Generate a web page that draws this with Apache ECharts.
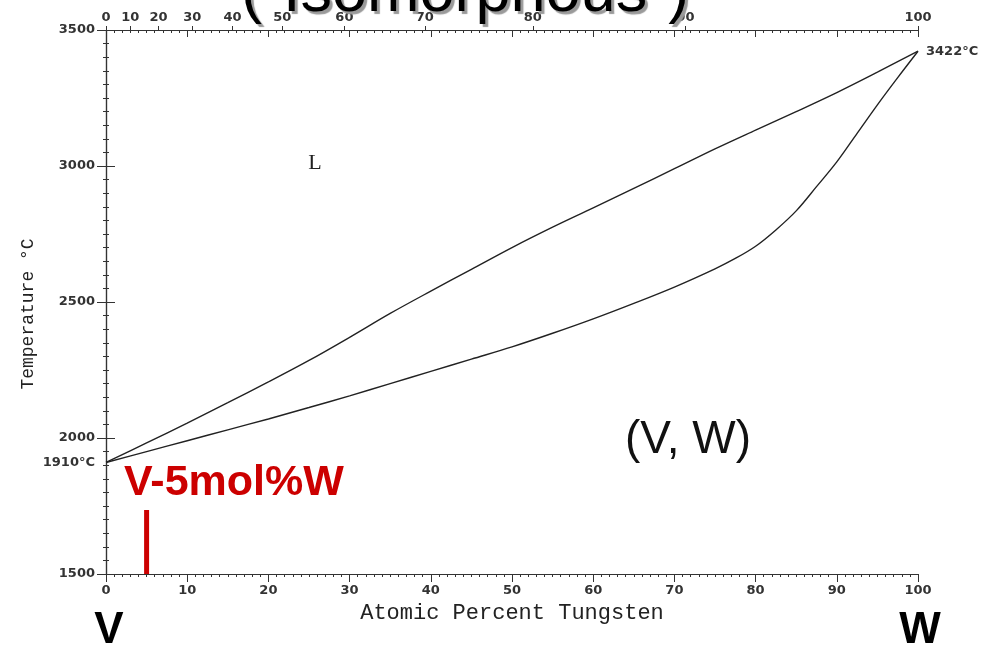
<!DOCTYPE html>
<html>
<head>
<meta charset="utf-8">
<script src="https://cdn.jsdelivr.net/npm/echarts@6/dist/echarts.min.js"></script>
<style>
html,body{margin:0;padding:0;background:#fff;}
#c{width:992px;height:649px;}
</style>
</head>
<body>
<div id="c"></div>
<script>
// liquidus: composition (atomic % W) and temperature (°C)
const liquidusX = [0,5,10,15,20,25,30,35,40,45,50,55,60,65,70,75,80,85,90,95,100];
const liquidusT = [1910,1982,2055,2130,2206,2285,2370,2458,2540,2620,2700,2775,2846,2918,2990,3063,3132,3200,3270,3345,3422];
// solidus: composition (atomic % W) and temperature (°C)
const solidusX = [0,5,10,15,20,25,30,35,40,45,50,55,60,65,70,75,77.5,80,82.5,85,87.5,90,92.5,95,97.5,100];
const solidusT = [1910,1950,1990,2030,2070,2112,2155,2200,2245,2290,2335,2385,2438,2495,2555,2622,2660,2705,2765,2835,2924,3015,3120,3225,3325,3422];
// axis ticks
const bottomTicks = [0,10,20,30,40,50,60,70,80,90,100];
const tempTicks = [1500,2000,2500,3000,3500];
const leftLabels = [1500,1910,2000,2500,3000,3500];
const rightLabels = [3422];
const weightPctLabels = [0,10,20,30,40,50,60,70,80,90,100];
// marker composition V-5mol%W
const markerX = [5,5];
const markerT = [1500,1735];

const M_W = 183.84, M_V = 50.94;
function wtToAt(w){ const a = w / M_W, b = (100 - w) / M_V; return a / (a + b) * 100; }
const topPositions = weightPctLabels.map(wtToAt);

const liquidus = liquidusX.map((x,i)=>[x, liquidusT[i]]);
const solidus  = solidusX.map((x,i)=>[x, solidusT[i]]);
const marker   = markerX.map((x,i)=>[x, markerT[i]]);

const lblFont = {fontFamily:'DejaVu Sans', fontSize:13, fontWeight:'bold', color:'#333'};
const axisLine = {show:true, lineStyle:{color:'#333', width:1.2}};

const chart = echarts.init(document.getElementById('c'), null, {renderer:'canvas'});
chart.setOption({
  animation:false,
  backgroundColor:'#fff',
  grid:{left:106, right:74, top:30, bottom:75, containLabel:false},
  xAxis:[
    {type:'value', position:'bottom', min:0, max:100, interval:10,
     axisLine:axisLine,
     axisTick:{show:true, inside:false, length:8, lineStyle:{color:'#333'}},
     minorTick:{show:true, splitNumber:10, length:3, lineStyle:{color:'#333'}},
     splitLine:{show:false},
     axisLabel:Object.assign({margin:10, customValues:bottomTicks}, lblFont),
     name:'Atomic Percent Tungsten', nameLocation:'middle', nameGap:26,
     nameTextStyle:{fontFamily:'Liberation Mono', fontSize:22, color:'#222'}
    },
    {type:'value', position:'top', min:0, max:100,
     axisLine:axisLine,
     axisTick:{show:true, inside:false, length:4, customValues:topPositions, lineStyle:{color:'#333'}},
     splitLine:{show:false},
     axisLabel:Object.assign({margin:6, customValues:topPositions,
       formatter:function(v){
         let best=0, d=1e9;
         topPositions.forEach((p,i)=>{ if(Math.abs(p-v)<d){d=Math.abs(p-v);best=i;} });
         return String(weightPctLabels[best]);
       }}, lblFont)
    },
    {type:'value', position:'top', min:0, max:100, interval:10,
     axisLine:{show:false},
     axisTick:{show:true, inside:true, length:7, lineStyle:{color:'#333'}},
     minorTick:{show:true, splitNumber:10, length:3, lineStyle:{color:'#333'}},
     splitLine:{show:false},
     axisLabel:{show:false}
    }
  ],
  yAxis:[
    {type:'value', position:'left', min:1500, max:3500, interval:500,
     axisLine:axisLine,
     axisTick:{show:true, inside:false, length:9, customValues:tempTicks, lineStyle:{color:'#333'}},
     minorTick:{show:true, splitNumber:10, length:3, lineStyle:{color:'#333'}},
     splitLine:{show:false},
     axisLabel:Object.assign({margin:11, customValues:leftLabels,
       formatter:function(v){ return v===1910 ? '1910°C' : String(v); }}, lblFont)
    },
    {type:'value', position:'right', min:1500, max:3500, interval:500,
     axisLine:axisLine,
     axisTick:{show:true, inside:false, length:9, lineStyle:{color:'#333'}},
     minorTick:{show:true, splitNumber:10, length:3, lineStyle:{color:'#333'}},
     splitLine:{show:false},
     axisLabel:Object.assign({margin:8, customValues:rightLabels,
       formatter:function(v){ return v + '°C'; }}, lblFont)
    }
  ],
  series:[
    {name:'Liquidus', type:'line', data:liquidus, xAxisIndex:0, yAxisIndex:0,
     smooth:0.35, symbol:'none', lineStyle:{color:'#222', width:1.4}, z:3},
    {name:'Solidus', type:'line', data:solidus, xAxisIndex:0, yAxisIndex:0,
     smooth:0.35, symbol:'none', lineStyle:{color:'#222', width:1.4}, z:3},
    {name:'V-5mol%W', type:'line', data:marker, xAxisIndex:0, yAxisIndex:0,
     symbol:'none', lineStyle:{color:'#cc0000', width:5, cap:'butt'}, z:4}
  ],
  graphic:[
    {type:'text', left:241, top:-38, z:100, style:{
      text:'(“Isomorphous”)', fontFamily:'Liberation Sans', fontSize:63, fill:'#000',
      textShadowColor:'#9a9a9a', textShadowOffsetX:3, textShadowOffsetY:3, textShadowBlur:1}},
    {type:'text', x:28, y:314, rotation:Math.PI/2, z:50, style:{text:'Temperature °C',
      fontFamily:'Liberation Mono', fontSize:18, fill:'#222', align:'center', verticalAlign:'middle'}},
    {type:'text', x:315, y:163, z:50, style:{text:'L', fontFamily:'Liberation Serif', fontSize:22,
      fill:'#222', align:'center', verticalAlign:'middle'}},
    {type:'text', x:688, y:440, z:50, style:{text:'(V, W)', fontFamily:'Liberation Sans', fontSize:46,
      fill:'#111', align:'center', verticalAlign:'middle'}},
    {type:'text', x:124, y:483, z:50, style:{text:'V-5mol%W', fontFamily:'Liberation Sans', fontSize:43,
      fontWeight:'bold', fill:'#cc0000', align:'left', verticalAlign:'middle'}},
    {type:'text', x:109, y:631, z:50, style:{text:'V', fontFamily:'Liberation Sans', fontSize:44,
      fontWeight:'bold', fill:'#000', align:'center', verticalAlign:'middle'}},
    {type:'text', x:920, y:631, z:50, style:{text:'W', fontFamily:'Liberation Sans', fontSize:44,
      fontWeight:'bold', fill:'#000', align:'center', verticalAlign:'middle'}}
  ]
});
</script>
</body>
</html>
